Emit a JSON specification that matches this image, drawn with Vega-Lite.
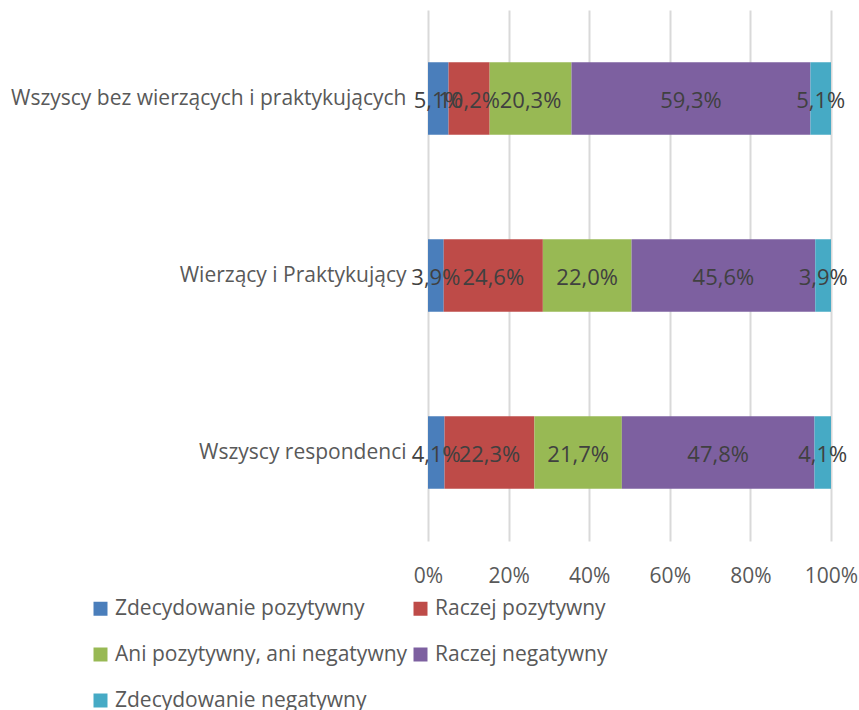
{
  "$schema": "https://vega.github.io/schema/vega-lite/v6.json",
  "autosize": "none",
  "width": 403,
  "height": 531,
  "padding": {"left": 428, "top": 10, "right": 28, "bottom": 169},
  "background": "white",
  "config": {
    "font": "Open Sans",
    "view": {"stroke": null},
    "locale": {"number": {"decimal": ",", "thousands": " ", "grouping": [3], "currency": ["", " zł"]}}
  },
  "data": {
    "values": [
      {"cat": "Wszyscy bez wierzących i praktykujących", "resp": "Zdecydowanie pozytywny", "o": 1, "v": 0.051},
      {"cat": "Wszyscy bez wierzących i praktykujących", "resp": "Raczej pozytywny", "o": 2, "v": 0.102},
      {"cat": "Wszyscy bez wierzących i praktykujących", "resp": "Ani pozytywny, ani negatywny", "o": 3, "v": 0.203},
      {"cat": "Wszyscy bez wierzących i praktykujących", "resp": "Raczej negatywny", "o": 4, "v": 0.593},
      {"cat": "Wszyscy bez wierzących i praktykujących", "resp": "Zdecydowanie negatywny", "o": 5, "v": 0.051},
      {"cat": "Wierzący i Praktykujący", "resp": "Zdecydowanie pozytywny", "o": 1, "v": 0.039},
      {"cat": "Wierzący i Praktykujący", "resp": "Raczej pozytywny", "o": 2, "v": 0.246},
      {"cat": "Wierzący i Praktykujący", "resp": "Ani pozytywny, ani negatywny", "o": 3, "v": 0.220},
      {"cat": "Wierzący i Praktykujący", "resp": "Raczej negatywny", "o": 4, "v": 0.456},
      {"cat": "Wierzący i Praktykujący", "resp": "Zdecydowanie negatywny", "o": 5, "v": 0.039},
      {"cat": "Wszyscy respondenci", "resp": "Zdecydowanie pozytywny", "o": 1, "v": 0.041},
      {"cat": "Wszyscy respondenci", "resp": "Raczej pozytywny", "o": 2, "v": 0.223},
      {"cat": "Wszyscy respondenci", "resp": "Ani pozytywny, ani negatywny", "o": 3, "v": 0.217},
      {"cat": "Wszyscy respondenci", "resp": "Raczej negatywny", "o": 4, "v": 0.478},
      {"cat": "Wszyscy respondenci", "resp": "Zdecydowanie negatywny", "o": 5, "v": 0.041}
    ]
  },
  "encoding": {
    "y": {
      "field": "cat",
      "type": "nominal",
      "sort": ["Wszyscy bez wierzących i praktykujących", "Wierzący i Praktykujący", "Wszyscy respondenci"],
      "scale": {"paddingInner": 0.59, "paddingOuter": 0.295},
      "axis": {
        "title": null,
        "domain": false,
        "ticks": false,
        "labelFontSize": 21,
        "labelColor": "#595959",
        "labelPadding": 22,
        "labelLimit": 500
      }
    }
  },
  "layer": [
    {
      "mark": {"type": "bar"},
      "encoding": {
        "x": {
          "field": "v",
          "type": "quantitative",
          "stack": "normalize",
          "scale": {"domain": [0, 1]},
          "axis": {
            "title": null,
            "format": ".0%",
            "values": [0, 0.2, 0.4, 0.6, 0.8, 1],
            "domain": false,
            "ticks": false,
            "grid": true,
            "gridColor": "#d9d9d9",
            "gridWidth": 2,
            "labelFontSize": 21,
            "labelColor": "#595959",
            "labelPadding": 24,
            "labelFlush": false
          }
        },
        "color": {
          "field": "resp",
          "type": "nominal",
          "sort": ["Zdecydowanie pozytywny", "Raczej pozytywny", "Ani pozytywny, ani negatywny", "Raczej negatywny", "Zdecydowanie negatywny"],
          "scale": {
            "domain": ["Zdecydowanie pozytywny", "Raczej pozytywny", "Ani pozytywny, ani negatywny", "Raczej negatywny", "Zdecydowanie negatywny"],
            "range": ["#4A7EBB", "#BE4B48", "#98B954", "#7D60A0", "#46AAC5"]
          },
          "legend": {
            "title": null,
            "orient": "none",
            "legendX": -338,
            "legendY": 588,
            "direction": "horizontal",
            "columns": 2,
            "columnPadding": 2,
            "rowPadding": 24,
            "symbolType": "square",
            "symbolSize": 196,
            "symbolStrokeWidth": 0,
            "symbolOpacity": 1,
            "labelFontSize": 21,
            "labelColor": "#595959",
            "labelOffset": 4,
            "labelLimit": 400
          }
        },
        "order": {"field": "o", "type": "quantitative"}
      }
    },
    {
      "mark": {"type": "text", "fontSize": 22, "color": "#404040", "baseline": "middle", "dy": 2},
      "encoding": {
        "x": {"field": "v", "type": "quantitative", "stack": "normalize", "bandPosition": 0.5},
        "detail": {"field": "resp"},
        "order": {"field": "o", "type": "quantitative"},
        "text": {"field": "v", "type": "quantitative", "format": ".1%"}
      }
    }
  ]
}
